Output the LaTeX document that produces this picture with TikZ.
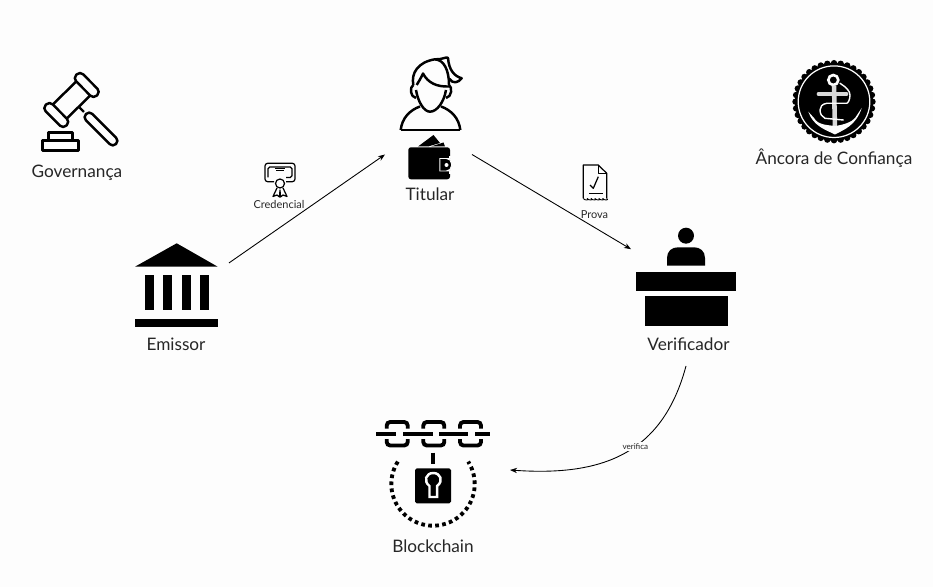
\documentclass[tikz,border=0pt]{standalone}
\usepackage{fontspec}
\setmainfont{Lato}
\usetikzlibrary{arrows.meta}
\definecolor{paper}{HTML}{FDFDFD}
\tikzset{
	hold/.style={shape=rectangle, inner sep=0pt, outer sep=0pt},
	name label/.style={shape=rectangle, inner sep=0pt, text=black!85, font=\fontsize{9.8}{11}\selectfont},
	small label/.style={shape=rectangle, inner sep=0pt, text=black!85, font=\fontsize{6.25}{7}\selectfont},
	flow/.style={draw=black, line width=.5pt, -{Stealth[length=4pt,width=3pt]}},
	outline/.style={draw=black, line width=1.4pt, line join=round},
	thin outline/.style={draw=black, line width=.7pt, line join=round},
	chain/.style={draw=black, line width=2.2pt},
	rope/.style={draw=paper, line width=.8pt, line cap=round}
}
\begin{document}
\begin{tikzpicture}[x=0.02cm, y=-0.02cm]
	\fill[paper] (0,0) rectangle (933,587);
	\useasboundingbox (0,0) rectangle (933,587);

	% holders for the connectors
	\node[hold, minimum width=2.08cm, minimum height=1.68cm] (emissor) at (177,285) {};
	\node[hold, minimum width=1.74cm, minimum height=0.92cm] (titular) at (428.5,154.5) {};
	\node[hold, minimum width=2.2cm, minimum height=2.76cm] (verificador) at (686,297) {};
	\node[hold, minimum width=3.08cm, minimum height=2.4cm] (blockchain) at (433,470) {};

	% labels
	\node[name label] (governanca label) at (77,173) {Governança};
	\node[name label] (titular label) at (430,194) {Titular};
	\node[name label] (ancora label) at (834,158) {Âncora de Confiança};
	\node[name label] (emissor label) at (176,344.5) {Emissor};
	\node[name label] (verificador label) at (688.5,344) {Verificador};
	\node[name label] (blockchain label) at (433,546) {Blockchain};
	\node[small label] (credencial label) at (279,205) {Credencial};
	\node[small label] (prova label) at (594.5,214.5) {Prova};

	% connectors
	\path (emissor.23) edge[flow] (titular.west);
	\path (titular.east) edge[flow] (verificador.139.5);
	\path (verificador.south) edge[flow, out=-105, in=-4, looseness=1.15] node[pos=.43, fill=paper, inner sep=.8pt, text=black!85, font=\fontsize{4.6}{5}\selectfont] (verifica label) {verifica} (blockchain.east);

	% gavel
	\draw[outline, rounded corners=2.5] (100.5,91.8) -- (93.5,98.8) -- (73,78.2) -- (80,71.2) -- cycle;
	\draw[outline, rounded corners=2.5] (70,121.8) -- (63.1,128.8) -- (42.5,108.2) -- (49.5,101.2) -- cycle;
	\draw[outline] (76.2,81.5) -- (52.8,104.5) (90.2,95.5) -- (66.8,118.5);
	\draw[outline, rounded corners=2.5] (89.2,110.8) -- (119.2,140.8) -- (112.8,147.2) -- (82.8,117.2) -- cycle;
	\draw[outline] (79.5,107.5) -- (84,112);
	\draw[outline] (48.3,140.7) -- (48.3,132.7) -- (72.7,132.7) -- (72.7,140.7);
	\draw[outline] (42.7,140.7) rectangle (78.3,150.7);

	% person
	\draw[outline] (400.7,130) .. controls (402,118) and (410,110) .. (420,106.5);
	\draw[outline] (460.3,130) .. controls (459,118) and (451,110) .. (441,106.5);
	\draw[outline] (400.7,130) -- (460.3,130);
	\draw[outline] (416,90) .. controls (418,102) and (424,111.7) .. (430,111.7) .. controls (437,111.7) and (444,102) .. (446,90);
	\draw[outline] (413.3,85) .. controls (411,73) and (418,62) .. (435,59.3) .. controls (444,60) and (449,70) .. (449,85);
	\draw[outline] (435,59.3) .. controls (442,60) and (447,56) .. (448,58) .. controls (449,70) and (454,76) .. (461.7,78.3) .. controls (458,83) and (453,84) .. (449.5,79);
	\draw[outline] (416.7,85) .. controls (419,81) and (421,78) .. (423,73.5) .. controls (428,83) and (437,87) .. (449,86.5);
	\draw[outline] (413.3,85) .. controls (409.5,87) and (410,97) .. (416,98);
	\draw[outline] (449,85) .. controls (452.5,87) and (452,97) .. (446,98);

	% wallet
	\fill[black] (418,146.5) -- (433.5,135) -- (440,143) -- (428,146.5) -- cycle;
	\fill[black] (431,146.5) -- (443.5,142.5) -- (445,146.5) -- cycle;
	\fill[black, rounded corners=1.5] (408.3,147.3) rectangle (450,179.3);
	\fill[paper] (451,156.5) rectangle (449,174);
	\fill[black, rounded corners=3, draw=paper, line width=.5pt] (451.5,158.5) -- (445,158.5) .. controls (440,158.5) and (440,171) .. (445,171) -- (451.5,171) -- cycle;
	\fill[paper] (446.5,165) circle (2);

	% anchor badge
	\foreach \a in {0,10,...,350}
		\fill[black] ({834+38.5*cos(\a)},{101.7+38.5*sin(\a)}) circle (3.2);
	\fill[black] (834,101.7) circle (39);
	\draw[draw=paper, line width=.7pt] (834,101.7) circle (35.8);
	\draw[rope, line width=1.5pt] (833.3,80) circle (5);
	\draw[rope, draw=black!15, line width=2.6pt, line cap=butt] (834,85.5) -- (835,130);
	\draw[rope, draw=black!15, line width=1.8pt] (818.3,94) -- (846.7,94);
	\fill[paper] (808.3,111.7) .. controls (813,126) and (826,130) .. (835,134.5) .. controls (843,130) and (856,126) .. (861.7,108) -- (855,118) .. controls (852,122) and (843,125) .. (835,126) .. controls (827,125) and (818,125) .. (814,118) -- cycle;
	\draw[rope] (840,83.3) .. controls (846,87) and (850,91) .. (850,95) .. controls (850,100) and (848,103) .. (846.7,103.3) -- (826.7,103.3) .. controls (822,104) and (820,107) .. (820,110) .. controls (820,114) and (822,117) .. (825,118.3) -- (843.3,120);

	% bank
	\fill[black] (135,266.7) -- (176.7,243.3) -- (217.7,266.7) -- cycle;
	\foreach \x in {145,163,182,200}
		\fill[black] (\x,275) rectangle ++(8.5,35);
	\fill[black] (135,319) rectangle (218.3,326.7);

	% desk
	\fill[black] (686,235.7) circle (8);
	\fill[black] (667,265.7) -- (667,258) .. controls (667,251) and (672,247.3) .. (678,247.3) -- (694,247.3) .. controls (700,247.3) and (705,251) .. (705,258) -- (705,265.7) -- cycle;
	\fill[black] (636,271.7) rectangle (736,290.7);
	\fill[black] (645,296) rectangle (727.7,326);

	% chain and lock
	\foreach \x in {386.7,423.3,460} {
		\draw[chain, rounded corners=2] (\x,428.5) -- (\x,422) -- ++(21,0) -- ++(0,6.5);
		\draw[chain, rounded corners=2] (\x,439) -- (\x,445.5) -- ++(21,0) -- ++(0,-6.5);
	}
	\draw[chain] (376,434) -- (395.7,434) (403.3,434) -- (433,434) (439,434) -- (468,434) (475,434) -- (490,434);
	\draw[chain] (432.7,452.7) -- (432.7,464.3);
	\fill[black, rounded corners=1] (415,468.3) rectangle (451,503.3);
	\draw[draw=paper, line width=1.4pt, fill=black] (429.5,497) -- (429.5,486) .. controls (423,481) and (426,473) .. (433.3,473) .. controls (440.6,473) and (443.6,481) .. (437.2,486) -- (437.2,497) -- cycle;
	\draw[draw=black, line width=2.2pt, dash pattern=on 2.1pt off 1.9pt] plot[domain=212.5:-32.5, samples=60] ({433+41.7*cos(\x)},{484+41.7*sin(\x)});

	% certificate
	\draw[thin outline, rounded corners=1.5] (274,181.7) -- (265,181.7) -- (265,163.3) -- (295,163.3) -- (295,181.7) -- (286,181.7);
	\draw[thin outline, rounded corners=1] (268,177.5) -- (268,167) -- (292,167) -- (292,177.5) -- (286,177.5);
	\draw[thin outline, line width=.5pt] (275,168) -- (285,168) (276,170) -- (284,170);
	\draw[thin outline] (280,183.5) circle (4.5);
	\draw[thin outline] (277,188) -- (273,196.5) -- (277,195) -- (279.5,197) -- (280,190) -- (280.5,197) -- (283,195) -- (287,196.5) -- (283,188);

	% proof
	\draw[thin outline] (583.3,198.5) -- (583.3,165) -- (598.3,165) -- (606.7,173.3) -- (606.7,198.5);
	\draw[thin outline] (598.3,165) -- (598.3,173.3) -- (606.7,173.3);
	\draw[thin outline, line width=.5pt] (583.3,198.5) \foreach \x in {0,1,...,5} { .. controls ++(1,2) and ++(3,2) .. ++(3.9,0) };
	\draw[thin outline] (590,185) -- (593.3,188.3) -- (598.3,176.7);
	\draw[thin outline] (589.3,193.3) -- (603.3,193.3);
\end{tikzpicture}
\end{document}
